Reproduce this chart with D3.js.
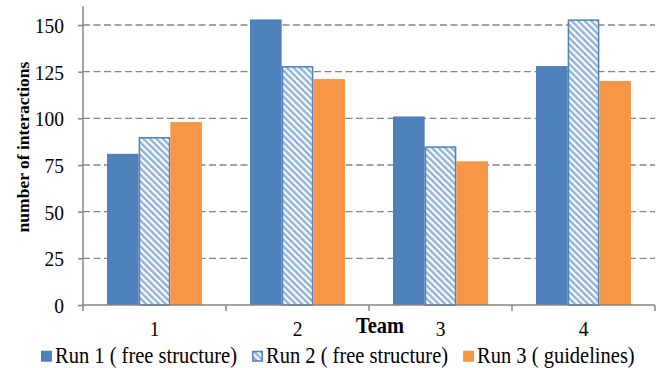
<!DOCTYPE html>
<html>
<head>
<meta charset="utf-8">
<script src="https://cdn.jsdelivr.net/npm/d3@7"></script>
<style>
  html, body { margin: 0; padding: 0; background: #fff; }
  svg { display: block; }
</style>
</head>
<body>
<svg id="chart" width="665" height="368" font-family="Liberation Serif"></svg>
<script>
// Interaction counts per team for each run
const teams = ["1", "2", "3", "4"];
const seriesNames = ["Run 1 ( free structure)", "Run 2 ( free structure)", "Run 3 ( guidelines)"];
const run1 = [81, 153, 101, 128];
const run2 = [90, 128, 85, 153];
const run3 = [98, 121, 77, 120];
const yTicks = [0, 25, 50, 75, 100, 125, 150];

const seriesValues = [run1, run2, run3];
const seriesKeys = ["r1", "r2", "r3"];

const SERIF = "Liberation Serif";
const TALL = 1.12;          // slightly tall lettering for labels
const plotBottom = 305;

const svg = d3.select("#chart");

// Diagonal hatch used by the second run
const defs = svg.append("defs");
const pat = defs.append("pattern")
  .attr("id", "hatch")
  .attr("patternUnits", "userSpaceOnUse")
  .attr("width", 4.6)
  .attr("height", 4.6)
  .attr("patternTransform", "rotate(-45)");
pat.append("rect").attr("width", 4.6).attr("height", 4.6).attr("fill", "#ffffff");
pat.append("rect").attr("width", 2.5).attr("height", 4.6).attr("fill", "#93b3dc");

const fills = { r1: "#4f81bd", r2: "url(#hatch)", r3: "#f79646" };

const x = d3.scaleBand()
  .domain(teams)
  .range([83, 655])
  .paddingInner(0.3357)
  .paddingOuter(0.3357 / 2);

const xSub = d3.scaleBand()
  .domain(seriesKeys)
  .range([0, x.bandwidth()])
  .padding(0);

const y = d3.scaleLinear()
  .domain([0, 160])
  .range([plotBottom, plotBottom - 160 * (280 / 150)]);

// Dashed horizontal gridlines
svg.append("g")
  .selectAll("line")
  .data(yTicks.filter(d => d > 0))
  .join("line")
  .attr("x1", 83).attr("x2", 655)
  .attr("y1", d => y(d)).attr("y2", d => y(d))
  .attr("stroke", "#868686")
  .attr("stroke-width", 1.4)
  .attr("stroke-dasharray", "7,3.5");

// Bars
const rows = teams.map((t, i) => ({ team: t, vals: seriesKeys.map((k, j) => ({ key: k, value: seriesValues[j][i] })) }));

const groups = svg.append("g")
  .selectAll("g")
  .data(rows)
  .join("g")
  .attr("transform", d => `translate(${x(d.team)},0)`);

groups.selectAll("rect")
  .data(d => d.vals)
  .join("rect")
  .attr("x", d => xSub(d.key) + (d.key === "r2" ? 0.75 : 0))
  .attr("width", d => xSub.bandwidth() - (d.key === "r2" ? 1.5 : 0))
  .attr("y", d => y(d.value) + (d.key === "r2" ? 0.75 : 0))
  .attr("height", d => plotBottom - y(d.value) - (d.key === "r2" ? 0.75 : 0))
  .attr("fill", d => fills[d.key])
  .attr("stroke", d => d.key === "r2" ? "#4f81bd" : "none")
  .attr("stroke-width", 1.5);

// Y axis
const yAxis = d3.axisLeft(y)
  .tickValues(yTicks)
  .tickSize(5)
  .tickPadding(14)
  .tickFormat(d3.format("d"));

const gy = svg.append("g")
  .attr("transform", "translate(83,0)")
  .call(yAxis)
  .attr("font-family", SERIF)
  .attr("font-size", 19.5);
gy.select(".domain")
  .attr("d", `M0,${y(160)}V${plotBottom}`)
  .attr("stroke", "#868686")
  .attr("stroke-width", 1.5);
gy.selectAll(".tick line").attr("stroke", "#868686").attr("stroke-width", 1.5);
gy.selectAll(".tick text")
  .attr("fill", "#000")
  .attr("dy", null)
  .attr("dominant-baseline", "central")
  .attr("transform", `scale(1,${TALL})`);

// X axis line with ticks at category boundaries
const step = x.step();
const gapHalf = (step - x.bandwidth()) / 2;
const bounds = teams.map(t => x(t) - gapHalf).concat([x(teams[teams.length - 1]) + x.bandwidth() + gapHalf]);

const gx = svg.append("g").attr("font-family", SERIF).attr("font-size", 19.5);
gx.append("line")
  .attr("x1", 83).attr("x2", bounds[bounds.length - 1])
  .attr("y1", plotBottom).attr("y2", plotBottom)
  .attr("stroke", "#868686").attr("stroke-width", 1.5);
gx.selectAll("line.tk")
  .data(bounds)
  .join("line")
  .attr("class", "tk")
  .attr("x1", d => d).attr("x2", d => d)
  .attr("y1", plotBottom).attr("y2", plotBottom + 6)
  .attr("stroke", "#868686").attr("stroke-width", 1.5);
gx.selectAll("text")
  .data(teams)
  .join("text")
  .attr("transform", d => `translate(${x(d) + x.bandwidth() / 2},336) scale(1,${TALL})`)
  .attr("text-anchor", "middle")
  .text(d => d);

// Axis titles
svg.append("text")
  .attr("transform", `translate(380,333) scale(1,${TALL})`)
  .attr("text-anchor", "middle")
  .attr("font-family", SERIF)
  .attr("font-size", 20.5)
  .attr("font-weight", "bold")
  .text("Team");

svg.append("text")
  .attr("transform", "translate(29,147) rotate(-90)")
  .attr("text-anchor", "middle")
  .attr("font-family", SERIF)
  .attr("font-size", 17.5)
  .attr("font-weight", "bold")
  .text("number of interactions");

// Legend
const legend = svg.append("g").attr("font-family", SERIF).attr("font-size", 20.5);
let lx = 41;
seriesKeys.forEach((k, i) => {
  const g = legend.append("g").attr("transform", `translate(${lx},0)`);
  if (k === "r2") {
    g.append("rect").attr("x", 0.75).attr("y", 351.5).attr("width", 9.5).attr("height", 9.5)
      .attr("fill", "url(#hatch)").attr("stroke", "#4f81bd").attr("stroke-width", 1.5);
  } else {
    g.append("rect").attr("x", 0).attr("y", 350.75).attr("width", 11).attr("height", 11)
      .attr("fill", fills[k]);
  }
  const t = g.append("text")
    .attr("transform", `translate(14,363) scale(1,${TALL})`)
    .text(seriesNames[i]);
  lx += 14 + t.node().getComputedTextLength() + 15;
});
</script>
</body>
</html>
